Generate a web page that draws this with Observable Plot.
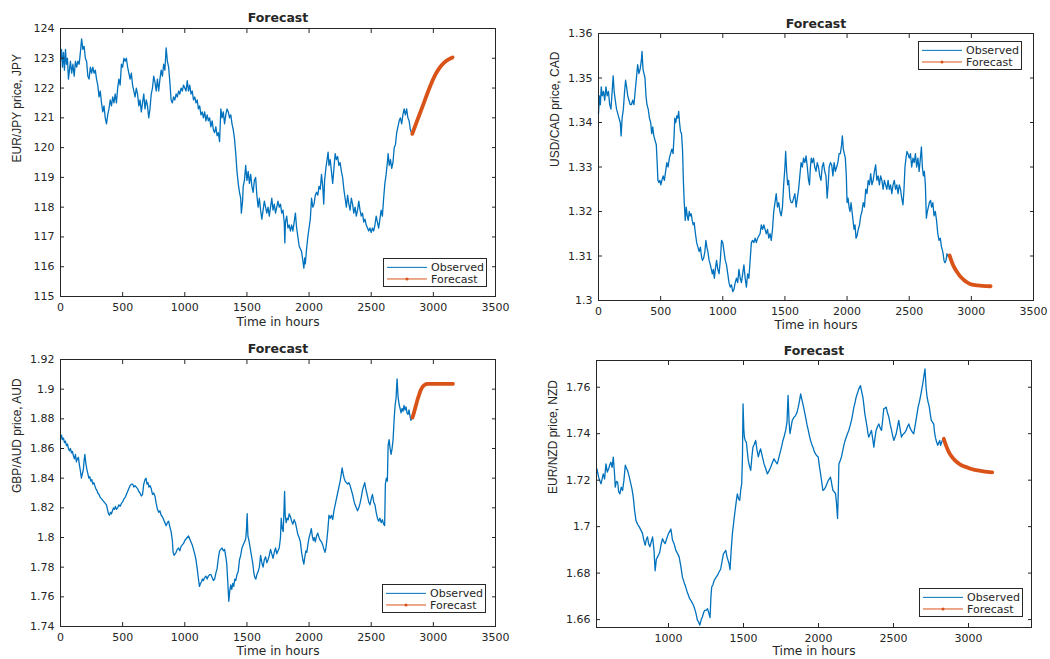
<!DOCTYPE html>
<html>
<head>
<meta charset="utf-8">
<script src="https://cdn.jsdelivr.net/npm/d3@7"></script>
<script src="https://cdn.jsdelivr.net/npm/@observablehq/plot@0.6"></script>
<style>
  html, body { margin: 0; padding: 0; background: #fff; }
  body { width: 1050px; height: 659px; position: relative; overflow: hidden; font-family: "DejaVu Sans", sans-serif; }
  .panel { position: absolute; }
  .legend { position: absolute; box-sizing: border-box; border: 1px solid #262626; background: #fff; }
  .legend svg { display: block; overflow: visible; }
</style>
</head>
<body>
<script>
// ---------------- DATA ----------------
const seriesNames = ["Observed", "Forecast"];
const panelTitle = "Forecast";
const xAxisLabel = "Time in hours";
const yLabels = ["EUR/JPY price, JPY", "USD/CAD price, CAD", "GBP/AUD price, AUD", "EUR/NZD price, NZD"];

const xTicksFull = [0, 500, 1000, 1500, 2000, 2500, 3000, 3500];
const xTicksNzd = [1000, 1500, 2000, 2500, 3000];
const yTicksJpy = [115, 116, 117, 118, 119, 120, 121, 122, 123, 124];
const yTicksCad = [1.3, 1.31, 1.32, 1.33, 1.34, 1.35, 1.36];
const yTicksAud = [1.74, 1.76, 1.78, 1.8, 1.82, 1.84, 1.86, 1.88, 1.9, 1.92];
const yTicksNzd = [1.66, 1.68, 1.7, 1.72, 1.74, 1.76];

// [hour, price]
const eurJpyObserved = [[0,122.9],[8,123.3],[16,122.7],[24,123.2],[32,122.6],[40,123.3],[48,122.8],[56,123.0],[64,122.3],[72,122.6],[80,122.9],[90,122.5],[100,122.8],[110,122.4],[120,122.9],[130,122.7],[140,122.9],[150,122.8],[160,123.2],[170,123.65],[180,123.3],[190,123.4],[200,123.0],[210,122.9],[220,122.4],[230,122.3],[240,122.7],[250,122.5],[260,122.7],[270,122.5],[280,122.6],[290,122.3],[300,122.1],[310,121.7],[320,121.9],[330,121.5],[340,121.2],[350,121.4],[360,121.0],[370,120.8],[380,121.1],[390,121.3],[400,121.6],[410,121.4],[420,121.7],[430,121.5],[440,121.8],[450,121.5],[460,122.0],[470,122.3],[480,122.1],[490,122.8],[500,122.7],[510,123.0],[520,122.9],[530,123.0],[540,122.7],[550,122.5],[560,122.3],[570,122.5],[580,122.1],[590,121.9],[600,121.7],[610,122.0],[620,121.8],[630,121.4],[640,121.6],[650,121.2],[660,121.5],[670,121.8],[680,121.3],[690,121.6],[700,121.4],[710,121.0],[720,121.3],[730,121.8],[740,122.0],[750,122.4],[760,122.2],[770,121.9],[780,122.3],[790,121.9],[800,122.3],[810,122.6],[820,122.4],[830,122.8],[840,122.6],[850,123.35],[860,122.9],[870,122.7],[880,122.2],[890,121.6],[900,121.5],[910,121.7],[920,121.6],[930,121.8],[940,121.7],[950,121.9],[960,121.8],[970,122.0],[980,121.9],[990,122.1],[1000,122.0],[1010,121.9],[1020,122.25],[1030,121.9],[1040,122.1],[1050,121.8],[1060,121.9],[1070,121.6],[1080,121.7],[1090,121.5],[1100,121.6],[1110,121.3],[1120,121.4],[1130,121.1],[1140,121.2],[1150,121.0],[1160,121.2],[1170,120.9],[1180,121.1],[1190,120.9],[1200,121.0],[1210,120.7],[1220,120.9],[1230,120.6],[1240,120.5],[1250,120.7],[1260,120.4],[1270,120.5],[1280,120.2],[1290,121.3],[1300,121.0],[1310,121.2],[1320,120.8],[1330,121.1],[1340,121.3],[1350,121.2],[1360,121.0],[1370,121.1],[1380,120.8],[1390,120.6],[1400,120.3],[1410,119.8],[1420,119.2],[1430,118.8],[1440,118.5],[1450,118.3],[1455,117.8],[1465,118.2],[1470,118.7],[1480,118.9],[1490,119.4],[1500,118.9],[1510,119.2],[1520,118.8],[1530,119.1],[1540,118.7],[1550,118.5],[1560,118.9],[1570,119.0],[1580,118.4],[1590,118.0],[1600,118.3],[1610,117.9],[1620,117.6],[1630,117.9],[1640,118.2],[1650,118.0],[1660,117.8],[1670,118.0],[1680,117.7],[1690,118.0],[1700,118.3],[1710,117.9],[1720,118.1],[1730,117.8],[1740,118.0],[1750,118.2],[1760,118.0],[1770,118.1],[1780,117.8],[1790,117.9],[1800,117.5],[1805,116.8],[1810,117.5],[1820,117.7],[1830,117.3],[1840,117.4],[1850,117.2],[1860,117.4],[1870,117.2],[1880,117.5],[1890,117.8],[1900,117.3],[1910,117.0],[1920,116.7],[1930,116.6],[1940,116.5],[1950,116.2],[1958,115.95],[1965,116.3],[1970,116.1],[1980,116.6],[1990,117.0],[2000,117.3],[2010,117.6],[2020,118.3],[2030,118.0],[2040,118.1],[2050,118.4],[2060,118.5],[2070,118.4],[2080,118.7],[2090,118.6],[2100,119.1],[2110,118.7],[2118,118.1],[2125,118.9],[2135,119.3],[2145,119.6],[2153,119.85],[2160,119.4],[2170,119.6],[2180,119.2],[2190,118.8],[2200,119.3],[2210,119.8],[2220,119.6],[2230,119.7],[2240,119.4],[2250,119.5],[2260,119.2],[2270,119.0],[2280,118.6],[2290,118.3],[2300,118.0],[2310,118.4],[2320,118.1],[2330,117.9],[2340,118.3],[2350,118.1],[2360,117.8],[2370,118.0],[2380,117.7],[2390,117.9],[2400,118.2],[2410,117.9],[2420,117.7],[2430,117.8],[2440,117.5],[2450,117.6],[2460,117.4],[2470,117.3],[2480,117.2],[2490,117.3],[2500,117.15],[2510,117.3],[2520,117.2],[2530,117.4],[2540,117.7],[2550,117.5],[2560,117.3],[2570,117.6],[2580,117.9],[2590,117.7],[2600,118.3],[2610,118.8],[2620,119.1],[2630,119.5],[2636,119.8],[2645,119.4],[2655,119.6],[2665,119.3],[2675,119.5],[2685,120.0],[2695,120.1],[2705,120.5],[2715,120.7],[2725,120.9],[2735,121.0],[2745,120.8],[2755,121.1],[2765,121.3],[2775,121.1],[2785,121.3],[2795,121.0],[2805,120.9],[2815,120.6],[2828,120.46]];
const eurJpyForecast = [[2830,120.46],[2860,120.8],[2890,121.13],[2920,121.46],[2950,121.8],[2980,122.12],[3010,122.4],[3040,122.62],[3070,122.78],[3100,122.9],[3130,122.98],[3155,123.03]];

const usdCadObserved = [[0,1.342],[8,1.346],[15,1.344],[22,1.348],[30,1.346],[40,1.347],[50,1.345],[60,1.348],[70,1.346],[80,1.347],[90,1.344],[100,1.343],[110,1.347],[118,1.3505],[126,1.347],[135,1.345],[145,1.343],[155,1.342],[165,1.341],[175,1.340],[182,1.337],[190,1.341],[200,1.343],[210,1.347],[218,1.3495],[226,1.348],[235,1.346],[245,1.345],[255,1.344],[265,1.344],[275,1.345],[285,1.344],[295,1.347],[305,1.350],[315,1.353],[325,1.351],[335,1.352],[345,1.354],[350,1.356],[358,1.352],[366,1.351],[374,1.350],[382,1.346],[390,1.344],[400,1.343],[410,1.341],[420,1.340],[428,1.3375],[436,1.339],[445,1.337],[455,1.336],[465,1.335],[472,1.331],[478,1.327],[486,1.3265],[494,1.327],[502,1.326],[510,1.327],[520,1.328],[530,1.327],[540,1.329],[550,1.331],[560,1.330],[570,1.332],[580,1.333],[590,1.334],[600,1.333],[608,1.337],[614,1.341],[622,1.340],[630,1.3415],[638,1.341],[645,1.3425],[652,1.340],[660,1.338],[668,1.3375],[676,1.334],[684,1.326],[690,1.322],[698,1.318],[706,1.321],[714,1.319],[722,1.318],[730,1.320],[738,1.319],[746,1.3195],[754,1.318],[762,1.317],[770,1.3175],[780,1.315],[790,1.313],[800,1.312],[810,1.311],[820,1.312],[828,1.310],[836,1.309],[846,1.3095],[856,1.311],[864,1.3135],[872,1.312],[880,1.311],[890,1.309],[900,1.308],[908,1.307],[916,1.306],[924,1.307],[932,1.305],[940,1.307],[950,1.309],[960,1.307],[970,1.306],[980,1.309],[990,1.3135],[1000,1.313],[1010,1.311],[1020,1.309],[1030,1.308],[1040,1.306],[1050,1.304],[1060,1.303],[1070,1.3035],[1080,1.302],[1090,1.3025],[1100,1.304],[1110,1.305],[1120,1.304],[1130,1.307],[1140,1.305],[1150,1.304],[1160,1.306],[1170,1.308],[1180,1.305],[1190,1.303],[1200,1.306],[1210,1.305],[1220,1.309],[1230,1.313],[1240,1.3135],[1250,1.313],[1260,1.314],[1270,1.313],[1280,1.314],[1290,1.3145],[1300,1.315],[1310,1.317],[1320,1.316],[1330,1.317],[1340,1.316],[1350,1.315],[1360,1.316],[1370,1.314],[1380,1.315],[1390,1.3135],[1400,1.316],[1410,1.320],[1420,1.322],[1430,1.324],[1440,1.321],[1450,1.322],[1460,1.320],[1470,1.319],[1480,1.321],[1490,1.326],[1500,1.330],[1506,1.3335],[1514,1.329],[1522,1.326],[1530,1.327],[1540,1.323],[1550,1.322],[1560,1.322],[1570,1.323],[1580,1.324],[1590,1.321],[1600,1.323],[1610,1.325],[1620,1.328],[1630,1.331],[1640,1.330],[1650,1.332],[1660,1.331],[1670,1.3325],[1680,1.330],[1690,1.327],[1698,1.326],[1705,1.330],[1712,1.332],[1720,1.331],[1730,1.332],[1740,1.330],[1750,1.329],[1760,1.331],[1770,1.330],[1780,1.328],[1790,1.327],[1800,1.330],[1810,1.331],[1820,1.329],[1830,1.328],[1840,1.323],[1848,1.326],[1856,1.330],[1866,1.331],[1876,1.3305],[1886,1.328],[1896,1.331],[1906,1.329],[1916,1.330],[1926,1.331],[1936,1.333],[1946,1.333],[1956,1.335],[1962,1.337],[1970,1.334],[1978,1.333],[1986,1.332],[1994,1.328],[2000,1.322],[2008,1.323],[2016,1.321],[2024,1.320],[2032,1.322],[2040,1.320],[2048,1.318],[2056,1.316],[2064,1.317],[2072,1.314],[2080,1.3145],[2090,1.316],[2100,1.317],[2110,1.319],[2120,1.320],[2130,1.322],[2140,1.321],[2150,1.325],[2160,1.324],[2170,1.327],[2180,1.326],[2190,1.3285],[2200,1.326],[2210,1.327],[2220,1.329],[2230,1.3305],[2240,1.327],[2250,1.328],[2260,1.326],[2270,1.328],[2280,1.327],[2290,1.325],[2300,1.327],[2310,1.326],[2320,1.325],[2330,1.327],[2340,1.325],[2350,1.326],[2360,1.324],[2370,1.326],[2380,1.327],[2390,1.325],[2400,1.326],[2410,1.324],[2420,1.326],[2430,1.325],[2440,1.323],[2450,1.3215],[2458,1.325],[2466,1.330],[2474,1.332],[2482,1.3335],[2490,1.333],[2500,1.332],[2510,1.333],[2520,1.330],[2530,1.332],[2540,1.331],[2550,1.333],[2560,1.330],[2570,1.332],[2580,1.329],[2590,1.332],[2598,1.3345],[2606,1.330],[2614,1.328],[2622,1.329],[2630,1.326],[2638,1.3185],[2646,1.320],[2654,1.321],[2662,1.322],[2672,1.3225],[2680,1.321],[2690,1.322],[2700,1.319],[2710,1.320],[2720,1.318],[2730,1.315],[2740,1.3135],[2750,1.314],[2760,1.312],[2770,1.311],[2780,1.309],[2788,1.3085],[2796,1.309],[2804,1.3105],[2812,1.310],[2822,1.3101]];
const usdCadForecast = [[2825,1.3101],[2845,1.3085],[2865,1.3073],[2885,1.3064],[2905,1.3056],[2925,1.3050],[2945,1.3045],[2965,1.3041],[2990,1.3037],[3020,1.3035],[3050,1.3034],[3090,1.3033],[3155,1.3032]];

const gbpAudObserved = [[0,1.866],[8,1.869],[16,1.866],[24,1.867],[32,1.864],[40,1.865],[48,1.862],[56,1.863],[64,1.860],[72,1.8585],[80,1.860],[88,1.857],[96,1.858],[104,1.855],[112,1.853],[120,1.856],[128,1.851],[136,1.853],[144,1.854],[152,1.849],[160,1.845],[168,1.840],[176,1.843],[184,1.846],[190,1.852],[196,1.856],[204,1.850],[212,1.846],[220,1.843],[228,1.840],[236,1.841],[244,1.838],[252,1.839],[260,1.836],[268,1.837],[276,1.835],[284,1.833],[292,1.832],[300,1.830],[310,1.829],[320,1.827],[330,1.826],[340,1.825],[350,1.824],[360,1.823],[370,1.822],[378,1.819],[386,1.816],[394,1.815],[402,1.817],[410,1.816],[418,1.818],[426,1.820],[434,1.819],[442,1.821],[450,1.819],[460,1.820],[470,1.822],[480,1.821],[490,1.823],[500,1.824],[510,1.826],[520,1.827],[530,1.829],[540,1.831],[550,1.833],[560,1.835],[570,1.836],[580,1.836],[590,1.834],[600,1.835],[610,1.834],[620,1.833],[630,1.831],[640,1.830],[650,1.828],[660,1.829],[670,1.836],[680,1.839],[688,1.840],[696,1.836],[704,1.837],[712,1.834],[720,1.835],[730,1.833],[740,1.829],[750,1.830],[760,1.828],[770,1.823],[780,1.819],[790,1.817],[800,1.818],[810,1.815],[820,1.814],[830,1.812],[840,1.810],[850,1.808],[860,1.810],[870,1.811],[880,1.807],[890,1.804],[900,1.798],[906,1.790],[914,1.788],[922,1.789],[930,1.790],[940,1.792],[950,1.793],[960,1.791],[970,1.794],[980,1.795],[990,1.796],[1000,1.798],[1010,1.799],[1020,1.800],[1030,1.801],[1040,1.799],[1050,1.797],[1060,1.795],[1070,1.792],[1080,1.789],[1090,1.785],[1100,1.779],[1110,1.772],[1118,1.767],[1126,1.769],[1134,1.770],[1142,1.772],[1150,1.771],[1160,1.773],[1170,1.774],[1180,1.772],[1190,1.774],[1200,1.775],[1210,1.775],[1220,1.773],[1230,1.771],[1240,1.772],[1250,1.776],[1260,1.779],[1270,1.786],[1280,1.791],[1290,1.792],[1300,1.793],[1310,1.791],[1320,1.792],[1330,1.787],[1338,1.782],[1346,1.770],[1354,1.757],[1362,1.764],[1370,1.768],[1378,1.765],[1386,1.769],[1394,1.767],[1402,1.772],[1410,1.771],[1420,1.775],[1430,1.777],[1440,1.785],[1450,1.788],[1460,1.793],[1470,1.795],[1480,1.797],[1490,1.799],[1496,1.805],[1502,1.816],[1508,1.801],[1516,1.798],[1524,1.794],[1532,1.790],[1540,1.786],[1548,1.782],[1556,1.776],[1564,1.773],[1572,1.772],[1580,1.775],[1590,1.777],[1600,1.780],[1610,1.788],[1620,1.783],[1630,1.780],[1640,1.785],[1650,1.787],[1660,1.783],[1670,1.785],[1680,1.788],[1690,1.792],[1700,1.789],[1710,1.786],[1720,1.790],[1730,1.793],[1740,1.789],[1750,1.791],[1760,1.793],[1770,1.800],[1776,1.813],[1784,1.806],[1792,1.804],[1798,1.818],[1803,1.831],[1808,1.815],[1816,1.810],[1824,1.813],[1832,1.812],[1840,1.816],[1850,1.814],[1860,1.811],[1870,1.809],[1880,1.812],[1890,1.810],[1900,1.806],[1910,1.802],[1920,1.800],[1930,1.797],[1940,1.790],[1950,1.785],[1958,1.782],[1966,1.787],[1974,1.791],[1982,1.790],[1990,1.795],[2000,1.800],[2010,1.803],[2018,1.806],[2026,1.801],[2034,1.798],[2042,1.800],[2050,1.797],[2060,1.801],[2070,1.803],[2080,1.800],[2090,1.798],[2100,1.797],[2110,1.795],[2120,1.792],[2128,1.790],[2136,1.793],[2144,1.799],[2152,1.806],[2160,1.815],[2170,1.813],[2180,1.815],[2190,1.812],[2200,1.818],[2210,1.822],[2220,1.826],[2230,1.830],[2240,1.834],[2250,1.838],[2258,1.842],[2266,1.847],[2274,1.843],[2282,1.840],[2290,1.838],[2300,1.837],[2310,1.836],[2320,1.837],[2330,1.835],[2340,1.832],[2350,1.829],[2360,1.825],[2370,1.822],[2380,1.820],[2390,1.818],[2400,1.820],[2410,1.823],[2420,1.827],[2430,1.832],[2440,1.835],[2448,1.837],[2456,1.833],[2464,1.830],[2472,1.827],[2480,1.824],[2490,1.822],[2500,1.826],[2510,1.829],[2520,1.824],[2530,1.822],[2540,1.817],[2550,1.813],[2560,1.811],[2570,1.813],[2580,1.810],[2590,1.812],[2600,1.809],[2608,1.808],[2614,1.836],[2622,1.840],[2630,1.838],[2636,1.862],[2644,1.866],[2652,1.860],[2660,1.856],[2668,1.860],[2676,1.866],[2684,1.879],[2692,1.889],[2700,1.894],[2708,1.907],[2716,1.895],[2724,1.890],[2732,1.887],[2740,1.884],[2748,1.887],[2756,1.885],[2764,1.889],[2772,1.886],[2780,1.888],[2788,1.884],[2796,1.883],[2804,1.886],[2812,1.882],[2820,1.879],[2830,1.881]];
const gbpAudForecast = [[2832,1.8808],[2845,1.8845],[2858,1.8885],[2871,1.8925],[2885,1.8962],[2898,1.8992],[2912,1.9015],[2930,1.9029],[2955,1.9035],[3000,1.9036],[3060,1.9036],[3110,1.9036],[3158,1.9036]];

const eurNzdObserved = [[523,1.7249],[534,1.7213],[550,1.7184],[565,1.7227],[574,1.7205],[583,1.727],[592,1.7235],[601,1.7249],[608,1.7265],[616,1.7277],[624,1.7255],[632,1.7299],[640,1.7230],[645,1.717],[653,1.7195],[661,1.7191],[668,1.7150],[676,1.7141],[685,1.7170],[694,1.7156],[703,1.7200],[712,1.7265],[720,1.7250],[727,1.7242],[738,1.7215],[749,1.7184],[757,1.7160],[765,1.7127],[774,1.7070],[783,1.7027],[794,1.7010],[805,1.6999],[816,1.6985],[827,1.697],[836,1.6940],[845,1.692],[852,1.6945],[860,1.6956],[868,1.6925],[876,1.6913],[885,1.6935],[894,1.6956],[903,1.6900],[911,1.681],[919,1.6860],[927,1.687],[935,1.6880],[942,1.6891],[951,1.6925],[960,1.6948],[969,1.6935],[978,1.6927],[989,1.6950],[1000,1.697],[1016,1.699],[1027,1.6941],[1038,1.6925],[1049,1.6898],[1060,1.6885],[1071,1.687],[1082,1.6830],[1093,1.6783],[1104,1.6760],[1115,1.674],[1124,1.6720],[1133,1.6705],[1141,1.6690],[1149,1.6683],[1160,1.6670],[1171,1.6654],[1182,1.6630],[1193,1.6597],[1201,1.6590],[1209,1.6576],[1218,1.6600],[1226,1.6611],[1234,1.6630],[1242,1.664],[1251,1.6640],[1260,1.6647],[1268,1.6630],[1277,1.6609],[1283,1.6700],[1288,1.674],[1296,1.6750],[1304,1.6768],[1315,1.6780],[1326,1.679],[1337,1.6805],[1348,1.6818],[1357,1.6850],[1366,1.6883],[1374,1.6890],[1382,1.6898],[1390,1.6870],[1397,1.6855],[1404,1.6840],[1410,1.6815],[1418,1.6900],[1426,1.697],[1435,1.7020],[1444,1.707],[1452,1.7110],[1459,1.7141],[1467,1.7120],[1475,1.7113],[1482,1.7160],[1488,1.7184],[1493,1.7300],[1497,1.7528],[1502,1.7420],[1506,1.7385],[1512,1.7370],[1519,1.7364],[1526,1.7320],[1532,1.7285],[1540,1.7260],[1548,1.7242],[1556,1.7300],[1563,1.7342],[1572,1.7355],[1581,1.7371],[1590,1.7330],[1599,1.730],[1606,1.7320],[1614,1.7335],[1626,1.7300],[1637,1.727],[1648,1.7250],[1659,1.7227],[1670,1.7240],[1681,1.7256],[1692,1.7275],[1703,1.7292],[1714,1.7280],[1725,1.727],[1737,1.7300],[1748,1.7328],[1756,1.7350],[1763,1.7371],[1772,1.7390],[1781,1.7414],[1790,1.7450],[1797,1.7565],[1804,1.7450],[1810,1.7400],[1818,1.7430],[1825,1.7457],[1836,1.7470],[1847,1.7478],[1856,1.7490],[1865,1.7514],[1873,1.7540],[1881,1.7571],[1888,1.7550],[1896,1.7528],[1905,1.7500],[1914,1.7471],[1923,1.7440],[1932,1.7414],[1940,1.7390],[1947,1.7371],[1955,1.7355],[1963,1.7342],[1971,1.7325],[1980,1.7313],[1989,1.7305],[1998,1.730],[2006,1.7260],[2014,1.7227],[2022,1.7190],[2029,1.7156],[2038,1.7160],[2047,1.717],[2056,1.7185],[2065,1.7199],[2072,1.7205],[2080,1.7213],[2088,1.7185],[2096,1.7156],[2105,1.7150],[2114,1.7141],[2120,1.7100],[2127,1.7035],[2132,1.7150],[2136,1.727],[2145,1.7285],[2153,1.730],[2161,1.7325],[2169,1.735],[2177,1.7370],[2185,1.7385],[2193,1.7400],[2202,1.7414],[2211,1.7435],[2220,1.7457],[2228,1.7485],[2236,1.7514],[2244,1.7535],[2251,1.7557],[2260,1.7575],[2269,1.7593],[2280,1.7607],[2288,1.7580],[2296,1.7557],[2303,1.7520],[2309,1.7485],[2317,1.7455],[2324,1.7428],[2330,1.7400],[2335,1.7385],[2344,1.7400],[2353,1.7414],[2361,1.7380],[2369,1.7342],[2376,1.7380],[2384,1.7414],[2393,1.7430],[2402,1.7442],[2411,1.7425],[2420,1.7414],[2428,1.7460],[2435,1.7507],[2443,1.7510],[2451,1.7514],[2460,1.7490],[2469,1.7471],[2478,1.7440],[2487,1.7414],[2495,1.7390],[2502,1.7371],[2510,1.7385],[2518,1.740],[2527,1.7430],[2535,1.7457],[2544,1.7420],[2553,1.7385],[2560,1.7395],[2568,1.740],[2576,1.7405],[2584,1.7414],[2593,1.7430],[2602,1.7442],[2610,1.7425],[2619,1.7414],[2627,1.7405],[2635,1.740],[2643,1.7430],[2650,1.7457],[2657,1.7485],[2664,1.7514],[2672,1.7535],[2679,1.7557],[2687,1.7585],[2695,1.7614],[2703,1.7650],[2710,1.7679],[2717,1.7600],[2724,1.7557],[2731,1.7535],[2739,1.7514],[2745,1.7485],[2752,1.7457],[2760,1.7450],[2768,1.7442],[2773,1.7410],[2779,1.7385],[2787,1.7365],[2795,1.735],[2801,1.7360],[2808,1.7371],[2814,1.7350],[2822,1.7365],[2830,1.7378]];
const eurNzdForecast = [[2835,1.7378],[2850,1.7350],[2870,1.7320],[2890,1.7300],[2910,1.7285],[2935,1.7272],[2960,1.7262],[2990,1.7255],[3020,1.7248],[3050,1.7243],[3090,1.7239],[3125,1.7236],[3158,1.7234]];

// ---------------- DRAWING ----------------
const BLUE = "#0072BD";
const ORANGE = "#D95319";
const AXIS = "#262626";
const FONT = "DejaVu Sans, sans-serif";
const fmt = d3.format("~g");

function drawPanel(cfg) {
  const xy = {x: d => d[0], y: d => d[1]};
  const svg = Plot.plot({
    width: cfg.width, height: cfg.height,
    marginTop: cfg.m[0], marginRight: cfg.m[1], marginBottom: cfg.m[2], marginLeft: cfg.m[3],
    x: {domain: cfg.xDomain},
    y: {domain: cfg.yDomain},
    style: {fontFamily: FONT, fontSize: "11px", color: AXIS, background: "transparent", overflow: "visible"},
    marks: [
      Plot.line(cfg.observed, {...xy, stroke: BLUE, strokeWidth: 1.3}),
      Plot.line(cfg.forecast, {...xy, stroke: ORANGE, strokeWidth: 3.8, curve: "monotone-x"}),
      Plot.frame({stroke: AXIS, strokeWidth: 1}),
      Plot.axisX({ticks: cfg.xTicks, anchor: "bottom", tickSize: 0, tickPadding: 7, tickFormat: fmt, label: null, fontSize: 11}),
      Plot.axisX({ticks: cfg.xTicks, anchor: "bottom", tickSize: -4, tickFormat: () => "", label: null}),
      Plot.axisX({ticks: cfg.xTicks, anchor: "top", tickSize: -4, tickFormat: () => "", label: null}),
      Plot.axisY({ticks: cfg.yTicks, anchor: "left", tickSize: 0, tickPadding: 6, tickFormat: fmt, label: null, fontSize: 11}),
      Plot.axisY({ticks: cfg.yTicks, anchor: "left", tickSize: -4, tickFormat: () => "", label: null}),
      Plot.axisY({ticks: cfg.yTicks, anchor: "right", tickSize: -4, tickFormat: () => "", label: null}),
      Plot.text([panelTitle], {text: d => d, frameAnchor: "top", lineAnchor: "middle", dy: cfg.titleDy, fontWeight: "bold", fontSize: 12.5}),
      Plot.text([xAxisLabel], {text: d => d, frameAnchor: "bottom", lineAnchor: "middle", dy: cfg.xLabelDy, fontSize: 12.2}),
      Plot.text([cfg.yLabel], {text: d => d, frameAnchor: "left", lineAnchor: "middle", dx: -43, rotate: -90, fontSize: 12, fontFamily: "Liberation Sans, Arial, sans-serif"})
    ]
  });
  const wrap = document.createElement("div");
  wrap.className = "panel";
  wrap.style.left = cfg.left + "px";
  wrap.style.top = cfg.top + "px";
  wrap.appendChild(svg);
  document.body.appendChild(wrap);

  // legend box (MATLAB style)
  const lg = cfg.legend;
  const box = document.createElement("div");
  box.className = "legend";
  box.style.left = lg[0] + "px";
  box.style.top = lg[1] + "px";
  box.style.width = lg[2] + "px";
  box.style.height = lg[3] + "px";
  const w = lg[2] - 2, h = lg[3] - 2;
  const r1 = h * 0.31, r2 = h * 0.74;
  box.innerHTML =
    `<svg width="${w}" height="${h}" font-family="${FONT}" font-size="11" fill="${AXIS}">
      <line x1="3" x2="43" y1="${r1}" y2="${r1}" stroke="${BLUE}" stroke-width="1"/>
      <text x="47" y="${r1}" dy="0.36em">${seriesNames[0]}</text>
      <line x1="3" x2="43" y1="${r2}" y2="${r2}" stroke="${ORANGE}" stroke-width="1"/>
      <circle cx="23" cy="${r2}" r="1.5" fill="${ORANGE}"/>
      <text x="47" y="${r2}" dy="0.36em">${seriesNames[1]}</text>
    </svg>`;
  document.body.appendChild(box);
}

drawPanel({
  left: 0, top: 0, width: 525, height: 330, m: [28, 30, 34, 60],
  xDomain: [0, 3500], xTicks: xTicksFull, yDomain: [115, 124], yTicks: yTicksJpy,
  yLabel: yLabels[0], observed: eurJpyObserved, forecast: eurJpyForecast,
  titleDy: -11, xLabelDy: 26, legend: [383, 258, 104, 29]
});
drawPanel({
  left: 525, top: 0, width: 525, height: 330, m: [33, 17, 30, 73],
  xDomain: [0, 3500], xTicks: xTicksFull, yDomain: [1.3, 1.36], yTicks: yTicksCad,
  yLabel: yLabels[1], observed: usdCadObserved, forecast: usdCadForecast,
  titleDy: -10, xLabelDy: 25, legend: [918, 41, 104, 29]
});
drawPanel({
  left: 0, top: 330, width: 525, height: 329, m: [29, 30, 33, 60],
  xDomain: [0, 3500], xTicks: xTicksFull, yDomain: [1.74, 1.92], yTicks: yTicksAud,
  yLabel: yLabels[2], observed: gbpAudObserved, forecast: gbpAudForecast,
  titleDy: -11, xLabelDy: 25, legend: [382, 584, 104, 29]
});
drawPanel({
  left: 525, top: 330, width: 525, height: 329, m: [30, 19, 32, 71],
  xDomain: [520, 3420], xTicks: xTicksNzd, yDomain: [1.6566, 1.7715], yTicks: yTicksNzd,
  yLabel: yLabels[3], observed: eurNzdObserved, forecast: eurNzdForecast,
  titleDy: -10, xLabelDy: 24, legend: [919, 588, 104, 29]
});
</script>
</body>
</html>
